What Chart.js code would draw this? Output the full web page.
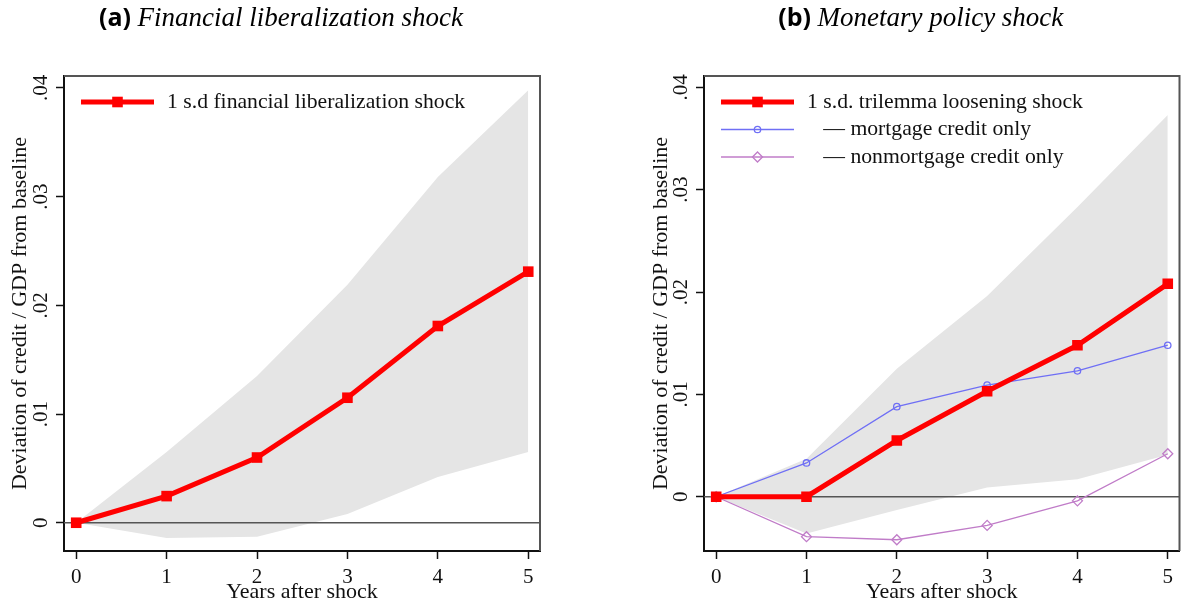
<!DOCTYPE html>
<html>
<head>
<meta charset="utf-8">
<script src="https://cdn.jsdelivr.net/npm/chart.js@4.4.1/dist/chart.umd.min.js"></script>
<style>
  body { margin: 0; background: #fff; overflow: hidden; }
  canvas { position: absolute; top: 0; }
</style>
</head>
<body>
<canvas id="panelA" width="590" height="605" style="left:0"></canvas>
<canvas id="panelB" width="546" height="605" style="left:641px"></canvas>
<script>
const years = [0, 1, 2, 3, 4, 5];
const yTicks = [0, 0.01, 0.02, 0.03, 0.04];

// (a) financial liberalization shock, with confidence band
const finLib      = [0, 0.00245, 0.0060, 0.0115, 0.0181, 0.0231];
const finLibUpper = [0, 0.0065, 0.0135, 0.0219, 0.0318, 0.0398];
const finLibLower = [0, -0.0014, -0.0013, 0.0008, 0.0042, 0.0065];

// (b) monetary policy (trilemma) shock, with band and credit split
const trilemma      = [0, 0, 0.0055, 0.0103, 0.0148, 0.0208];
const trilemmaUpper = [0, 0.0037, 0.0125, 0.0196, 0.0283, 0.0373];
const trilemmaLower = [0, -0.0036, -0.0013, 0.0009, 0.0017, 0.0041];
const mortgage      = [0, 0.0033, 0.0088, 0.0109, 0.0123, 0.0148];
const nonMortgage   = [0, -0.0039, -0.0042, -0.0028, -0.0004, 0.0042];

const SERIF = '"Liberation Serif", "DejaVu Serif", serif';
const RED = '#ff0000';
const BLUE = '#6f6ff5';
const PURPLE = '#c07cc8';
const BAND = '#e5e5e5';

const pts = arr => arr.map((v, i) => ({x: years[i], y: v}));

function fmtTick(v) {
    if (v === 0) return '0';
    return v.toFixed(2).replace(/^0/, '');
}

function lineSet(label, data, color, opts) {
    return Object.assign({
        label: label,
        data: pts(data),
        borderColor: color,
        backgroundColor: color,
        pointBorderColor: color,
        fill: false,
        tension: 0
    }, opts);
}

function bandSets(upper, lower) {
    return [
        {band: true, data: pts(upper), borderWidth: 0, pointRadius: 0, fill: '+1', backgroundColor: BAND, borderColor: BAND},
        {band: true, data: pts(lower), borderWidth: 0, pointRadius: 0, fill: false, borderColor: BAND}
    ];
}

// Title, frame, rotated y labels, zero line and legend
const stataLook = {
    id: 'stataLook',
    afterDatasetDraw(chart, args) {
        // zero line sits on top of the band, under the lines
        const ds = chart.data.datasets[args.index];
        if (!ds.band || ds.fill === false) return;
        const {ctx, chartArea} = chart;
        const y0 = chart.scales.y.getPixelForValue(0);
        ctx.save();
        ctx.strokeStyle = '#555';
        ctx.lineWidth = 1.3;
        ctx.beginPath();
        ctx.moveTo(chartArea.left, y0);
        ctx.lineTo(chartArea.right, y0);
        ctx.stroke();
        ctx.restore();
    },
    afterDraw(chart, args, opts) {
        const {ctx, chartArea} = chart;
        const ys = chart.scales.y;
        ctx.save();

        // plot frame
        ctx.strokeStyle = '#555';
        ctx.lineWidth = 2;
        ctx.beginPath();
        ctx.moveTo(chartArea.left, chartArea.top);
        ctx.lineTo(chartArea.right, chartArea.top);
        ctx.lineTo(chartArea.right, chartArea.bottom);
        ctx.stroke();

        // y tick labels, read bottom to top
        ctx.fillStyle = '#111';
        ctx.font = '21px ' + SERIF;
        ctx.textAlign = 'center';
        ctx.textBaseline = 'middle';
        yTicks.forEach(v => {
            ctx.save();
            ctx.translate(ys.right - 23, ys.getPixelForValue(v));
            ctx.rotate(-Math.PI / 2);
            ctx.fillText(fmtTick(v), 0, 0);
            ctx.restore();
        });

        // panel title: bold tag + italic text
        const cx = (chartArea.left + chartArea.right) / 2 - 21;
        const tagFont = 'bold 25px "Open Sans", sans-serif';
        const txtFont = 'italic 27px ' + SERIF;
        ctx.font = tagFont;
        const tagW = ctx.measureText(opts.tag + ' ').width;
        ctx.font = txtFont;
        const txtW = ctx.measureText(opts.text).width;
        const x = cx - (tagW + txtW) / 2;
        ctx.textAlign = 'left';
        ctx.fillStyle = '#000';
        ctx.font = tagFont;
        ctx.fillText(opts.tag, x, 19);
        ctx.font = txtFont;
        ctx.fillText(opts.text, x + tagW, 19);

        // legend inside the plot, top left
        ctx.font = '21.7px ' + SERIF;
        ctx.textBaseline = 'middle';
        let row = 0;
        chart.data.datasets.forEach(d => {
            if (d.band) return;
            const ly = chartArea.top + 26 + row * 27.5;
            const x0 = chartArea.left + 17, x1 = chartArea.left + 90;
            ctx.strokeStyle = d.borderColor;
            ctx.lineWidth = d.borderWidth;
            ctx.beginPath();
            ctx.moveTo(x0, ly);
            ctx.lineTo(x1, ly);
            ctx.stroke();
            ctx.fillStyle = d.pointBackgroundColor || d.backgroundColor;
            ctx.strokeStyle = d.pointBorderColor;
            ctx.lineWidth = d.pointBorderWidth || 0;
            Chart.helpers.drawPoint(ctx, {pointStyle: d.pointStyle, radius: d.pointRadius, borderWidth: d.pointBorderWidth || 0}, (x0 + x1) / 2, ly);
            ctx.fillStyle = '#111';
            ctx.fillText(d.label, chartArea.left + 103, ly);
            row++;
        });
        ctx.restore();
    }
};

function panel(id, tag, text, datasets, yMin, area) {
    return new Chart(document.getElementById(id), {
        type: 'line',
        data: {datasets: datasets},
        plugins: [stataLook],
        options: {
            responsive: false,
            animation: false,
            devicePixelRatio: 1,
            layout: {padding: {top: 76, right: area.right, left: 0, bottom: 0}},
            plugins: {
                legend: {display: false},
                tooltip: {enabled: false},
                stataLook: {tag: tag, text: text}
            },
            scales: {
                x: {
                    type: 'linear',
                    min: -0.135,
                    max: 5.13,
                    afterBuildTicks: s => { s.ticks = years.map(v => ({value: v})); },
                    afterFit: s => { s.height = 54; },
                    grid: {drawOnChartArea: false, tickLength: 8, color: '#111', tickWidth: 1.5},
                    border: {display: true, color: '#111', width: 2},
                    ticks: {font: {family: SERIF, size: 21}, color: '#111', padding: 6, callback: v => String(v)},
                    title: {display: true, text: 'Years after shock', font: {family: SERIF, size: 22}, color: '#111', padding: {top: 0, bottom: 0}}
                },
                y: {
                    type: 'linear',
                    min: yMin,
                    max: 0.0411,
                    afterBuildTicks: s => { s.ticks = yTicks.map(v => ({value: v})); },
                    afterFit: s => { s.width = area.left; },
                    grid: {drawOnChartArea: false, tickLength: 8, color: '#111', tickWidth: 1.5},
                    border: {display: true, color: '#111', width: 2},
                    ticks: {display: false},
                    title: {display: true, text: 'Deviation of credit / GDP from baseline', font: {family: SERIF, size: 22}, color: '#111', padding: {top: 7, bottom: 0}}
                }
            }
        }
    });
}

panel('panelA', '(a)', 'Financial liberalization shock', [
    lineSet('1 s.d financial liberalization shock', finLib, RED, {borderWidth: 5, pointStyle: 'rect', pointRadius: 7.5, pointBorderWidth: 0}),
    ...bandSets(finLibUpper, finLibLower)
], -0.0026, {left: 64, right: 50});

panel('panelB', '(b)', 'Monetary policy shock', [
    lineSet('1 s.d. trilemma loosening shock', trilemma, RED, {borderWidth: 5, pointStyle: 'rect', pointRadius: 7.5, pointBorderWidth: 0}),
    lineSet('   \u2014 mortgage credit only', mortgage, BLUE, {borderWidth: 1.3, pointStyle: 'circle', pointRadius: 3.2, pointBackgroundColor: 'rgba(0,0,0,0)', pointBorderWidth: 1.3}),
    lineSet('   \u2014 nonmortgage credit only', nonMortgage, PURPLE, {borderWidth: 1.3, pointStyle: 'rectRot', pointRadius: 5, pointBackgroundColor: 'rgba(0,0,0,0)', pointBorderWidth: 1.3}),
    ...bandSets(trilemmaUpper, trilemmaLower)
], -0.0053, {left: 63, right: 1});
</script>
</body>
</html>
